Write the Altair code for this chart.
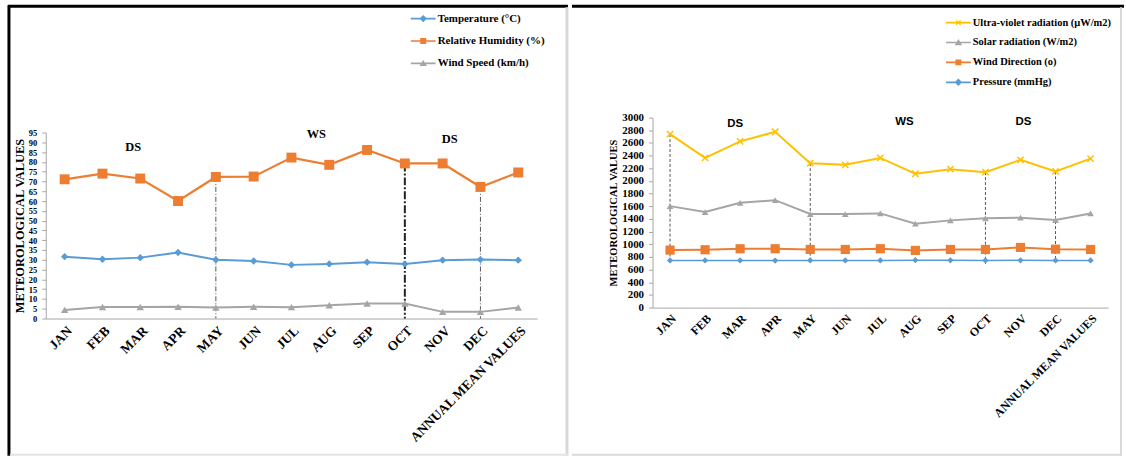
import altair as alt
import pandas as pd

months = ["JAN", "FEB", "MAR", "APR", "MAY", "JUN", "JUL", "AUG", "SEP", "OCT",
          "NOV", "DEC", "ANNUAL MEAN VALUES"]

# ---------------- Left panel data ----------------
left_series = ["Temperature (°C)", "Relative Humidity (%)", "Wind Speed (km/h)"]
temperature = [31.6, 30.3, 31.1, 33.7, 30.0, 29.4, 27.4, 27.9, 28.8, 27.9, 29.8, 30.1, 29.8]
humidity = [71.1, 74.0, 71.5, 60.0, 72.3, 72.5, 82.2, 78.5, 86.1, 79.2, 79.2, 67.2, 74.6]
wind_speed = [4.4, 5.9, 5.9, 6.0, 5.6, 6.0, 5.8, 6.8, 7.7, 7.7, 3.4, 3.4, 5.6]
left_y_ticks = [0, 5, 10, 15, 20, 25, 30, 35, 40, 45, 50, 55, 60, 65, 70, 75, 80, 85, 90, 95]
left_season_text = ["DS", "WS", "DS"]
left_season_month = ["MAR", "AUG", "NOV"]
left_season_value = [87.5, 94.0, 91.6]
left_mark_month = ["MAY", "OCT", "DEC"]
left_mark_top = [72.3, 79.2, 67.2]
left_mark_bottom = [0, 0, 0]

# ---------------- Right panel data ----------------
right_series = ["Ultra-violet radiation (µW/m2)", "Solar radiation (W/m2)",
                "Wind Direction (o)", "Pressure (mmHg)"]
uv = [2739, 2363, 2624, 2776, 2280, 2254, 2363, 2113, 2186, 2139, 2332, 2150, 2353]
solar = [1602, 1508, 1654, 1696, 1477, 1477, 1487, 1325, 1377, 1409, 1419, 1383, 1487]
wind_dir = [908, 913, 929, 929, 918, 918, 929, 903, 918, 918, 950, 923, 918]
pressure = [745, 745, 745, 743, 745, 745, 745, 748, 746, 744, 747, 745, 745]
right_y_ticks = [0, 200, 400, 600, 800, 1000, 1200, 1400, 1600, 1800, 2000, 2200,
                 2400, 2600, 2800, 3000]
right_season_text = ["DS", "WS", "DS"]
right_season_month = ["MAR", "AUG", "NOV"]
right_season_value = [2900, 2930, 2930]
right_mark_month = ["JAN", "MAY", "OCT", "DEC"]
right_mark_top = [2739, 2280, 2139, 2150]
right_mark_bottom = [745, 745, 690, 745]

BLUE, ORANGE, GRAY, GOLD = "#5B9BD5", "#ED7D31", "#A5A5A5", "#FFC000"
SERIF = "Liberation Serif"
SANS = "Liberation Sans"

H = 457
LW, RW = 571, 555

# legend symbol paths (line + marker), unit box [-1, 1]
LINE = "M-1,-0.07H1V0.07H-1Z"
P_DIAMOND = LINE + "M0,-0.3L0.3,0L0,0.3L-0.3,0Z"
P_SQUARE = LINE + "M-0.24,-0.24H0.24V0.24H-0.24Z"
P_TRI = LINE + "M0,-0.28L0.3,0.22L-0.3,0.22Z"
P_X = LINE + ("M-0.142,-0.212L0.212,0.142L0.142,0.212L-0.212,-0.142Z"
              "M-0.212,0.142L0.142,-0.212L0.212,-0.142L-0.142,0.212Z")
X_MARK = "M-1,-1L1,1M-1,1L1,-1"


def long_df(names, arrays):
    rows = []
    for n, arr in zip(names, arrays):
        for m, v in zip(months, arr):
            rows.append({"month": m, "series": n, "value": v})
    return pd.DataFrame(rows)


def panel(names, arrays, styles, xr, yr, ydom, yticks, ylab_size, xlab_size,
          title_size, label_pad, title_pad, season, sfont, ssize, sdx,
          marks, mark_styles, legend_xy, leg_font, leg_row, paths):
    df = long_df(names, arrays)
    x_enc = alt.X("month:N", sort=months,
                  scale=alt.Scale(type="point", domain=months, range=xr, padding=0.5),
                  axis=alt.Axis(title=None, labelAngle=-45, ticks=False,
                                labelFontSize=xlab_size, offset=-(H - yr[0]),
                                labelPadding=5, labelOverlap=False))
    y_scale = alt.Scale(domain=ydom, range=yr, nice=False, zero=True)
    y_enc = alt.Y("value:Q", scale=y_scale,
                  axis=alt.Axis(title="METEOROLOGICAL VALUES", values=yticks,
                                format="d",
                                labelFontSize=ylab_size, labelOverlap=False,
                                offset=-xr[0], tickSize=4, labelPadding=label_pad,
                                titleFontSize=title_size, titlePadding=title_pad))
    layers = []
    mdf = pd.DataFrame({"month": marks[0], "value": marks[1], "bottom": marks[2]})
    for i, st in enumerate(mark_styles):
        layers.append(
            alt.Chart(mdf.iloc[[i]]).mark_rule(color=st[0], strokeWidth=st[1],
                                                 strokeDash=st[2]).encode(
                x=x_enc, y=y_enc, y2="bottom:Q"))
    for n, st in zip(names, styles):
        d = df[df.series == n]
        base = alt.Chart(d).encode(x=x_enc, y=y_enc)
        layers.append(base.mark_line(color=st["color"], strokeWidth=st["lw"]))
        layers.append(base.mark_point(shape=st["shape"], size=st["size"],
                                      filled=st["filled"], color=st["color"],
                                      opacity=1, strokeWidth=st.get("sw", 1)))
    sdf = pd.DataFrame({"month": season[1], "value": season[2], "label": season[0]})
    for i in range(len(sdf)):
        layers.append(alt.Chart(sdf.iloc[[i]]).mark_text(
            font=sfont, fontWeight="bold", fontSize=ssize, color="black",
            dx=sdx[i], baseline="middle").encode(x=x_enc, y=y_enc, text="label:N"))
    leg = alt.Legend(orient="none", legendX=legend_xy[0], legendY=legend_xy[1],
                     title=None, symbolSize=625, symbolStrokeWidth=0,
                     labelFont=SERIF, labelFontWeight="bold", labelFontSize=leg_font,
                     labelColor="black", rowPadding=leg_row, labelOffset=2, padding=0)
    ldf = pd.DataFrame({"month": [months[0]] * len(names), "series": names,
                        "value": [0] * len(names)})
    layers.append(alt.Chart(ldf).transform_filter("false").mark_point(
        filled=True, opacity=1).encode(
        x=x_enc, y=y_enc,
        color=alt.Color("series:N", scale=alt.Scale(domain=names,
                                                    range=[s["color"] for s in styles]),
                        legend=leg),
        shape=alt.Shape("series:N", scale=alt.Scale(domain=names, range=paths),
                        legend=leg)))
    return layers


left_styles = [
    {"color": BLUE, "lw": 2, "shape": "diamond", "size": 55, "filled": True},
    {"color": ORANGE, "lw": 2.2, "shape": "square", "size": 100, "filled": True},
    {"color": GRAY, "lw": 2, "shape": "triangle-up", "size": 55, "filled": True},
]
left_layers = panel(left_series, [temperature, humidity, wind_speed], left_styles,
                    [46, 540], [319, 132], [0, 95], left_y_ticks, 8.5, 13.5, 12.5, 5, 2,
                    (left_season_text, left_season_month, left_season_value), SERIF, 12.5,
                    [-7, -13, 7],
                    (left_mark_month, left_mark_top, left_mark_bottom),
                    [("#555555", 1, [5, 2, 1, 2]), ("#222222", 2, [8, 2, 2, 2]),
                     ("#555555", 1, [5, 2, 1, 2])],
                    (413, 5), 11, 4.5, [P_DIAMOND, P_SQUARE, P_TRI])

right_styles = [
    {"color": GOLD, "lw": 2, "shape": X_MARK, "size": 40, "filled": False, "sw": 1.5},
    {"color": GRAY, "lw": 2, "shape": "triangle-up", "size": 45, "filled": True},
    {"color": ORANGE, "lw": 2, "shape": "square", "size": 85, "filled": True},
    {"color": BLUE, "lw": 1.5, "shape": "diamond", "size": 40, "filled": True},
]
right_layers = panel(right_series, [uv, solar, wind_dir, pressure], right_styles,
                     [81, 539], [308, 117], [0, 3000], right_y_ticks, 11, 12, 10.5, 5, 3,
                     (right_season_text, right_season_month, right_season_value), SANS,
                     11.5, [-5, -11, 3],
                     (right_mark_month, right_mark_top, right_mark_bottom),
                     [("#555555", 1, [3, 2])] * 4,
                     (376, 9), 10.5, 2, [P_X, P_TRI, P_SQUARE, P_DIAMOND])

# panel frames (decoration)
one = pd.DataFrame({"k": [0]})
left_frame = [
    alt.Chart(one).mark_rule(color="black", strokeWidth=3).encode(
        x=alt.value(8), x2=alt.value(LW), y=alt.value(5)),
    alt.Chart(one).mark_rule(color="black", strokeWidth=3).encode(
        x=alt.value(9), y=alt.value(4), y2=alt.value(H)),
    alt.Chart(one).mark_rule(color="#D9D9D9", strokeWidth=3).encode(
        x=alt.value(LW - 1), y=alt.value(6), y2=alt.value(H)),
    alt.Chart(one).mark_rule(color="#E3E3E3", strokeWidth=2).encode(
        x=alt.value(10), x2=alt.value(LW), y=alt.value(H - 1)),
]
right_frame = [
    alt.Chart(one).mark_rule(color="black", strokeWidth=3).encode(
        x=alt.value(0), x2=alt.value(RW), y=alt.value(5)),
    alt.Chart(one).mark_rule(color="#D9D9D9", strokeWidth=2).encode(
        x=alt.value(RW - 3), y=alt.value(6), y2=alt.value(H)),
    alt.Chart(one).mark_rule(color="#D9D9D9", strokeWidth=2).encode(
        x=alt.value(0), x2=alt.value(RW - 3), y=alt.value(H - 1)),
]

left_full = alt.layer(*left_layers, *left_frame).properties(width=LW, height=H)
right_full = alt.layer(*right_layers, *right_frame).properties(width=RW, height=H)

chart = alt.hconcat(left_full, right_full, spacing=0).resolve_scale(
    color="independent", shape="independent"
).resolve_legend(color="independent", shape="independent").properties(
    padding=0, background="white"
).configure_view(strokeWidth=0).configure_axis(
    grid=False, domainColor="#A6A6A6", tickColor="#A6A6A6",
    labelFont=SERIF, labelFontWeight="bold", labelColor="black",
    titleFont=SERIF, titleFontWeight="bold", titleColor="black"
)

chart.save("out.html", embed_options={"renderer": "svg", "actions": False})
